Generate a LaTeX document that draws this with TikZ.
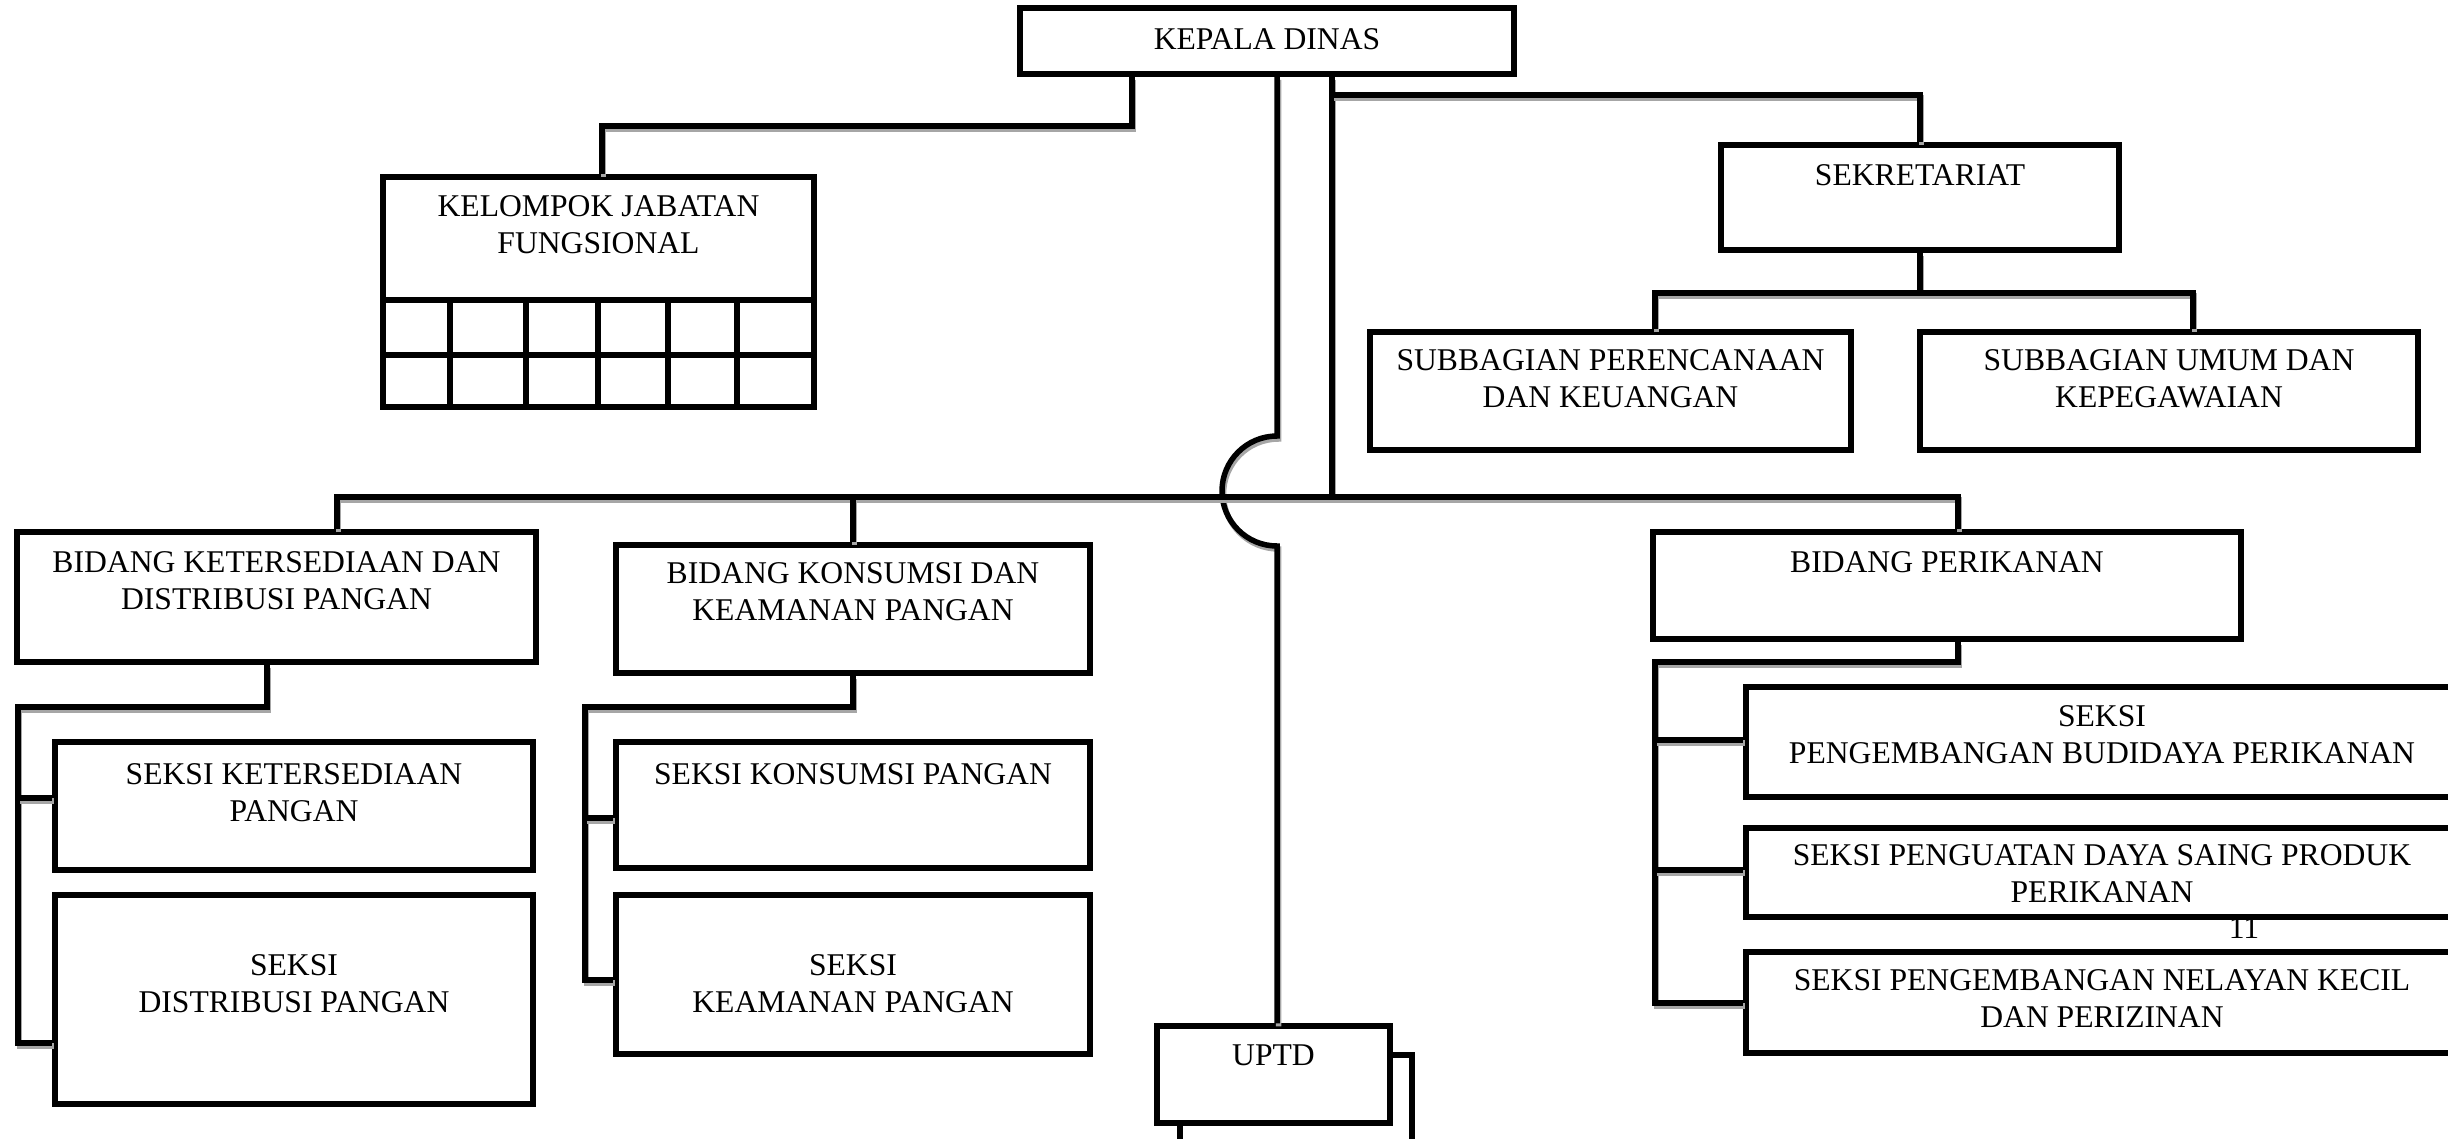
\documentclass[tikz,border=0pt]{standalone}
\usepackage{fontspec}
\setmainfont{Liberation Serif}
\usetikzlibrary{positioning,fit}

\begin{document}
\begin{tikzpicture}[x=0.1mm, y=-0.1mm, font=\fontsize{9}{10.5}\selectfont,
  box/.style={draw, line width=0.55mm, fill=white, inner sep=0pt},
  txt/.style={align=center, inner sep=0pt},
  cell/.style={line width=0.55mm},
  conn/.style={line width=0.55mm, preaction={draw=black!35, line width=0.55mm, transform canvas={shift={(0.15mm,-0.3mm)}}}}]
\useasboundingbox (0,0) rectangle (2448,1139);

% kepala, sekretariat, jabatan fungsional
\node[box, fit={(1020,8) (1514,74)}]     (kepala) {};
\node[box, fit={(383,177) (814,300)}]    (kjf) {};
\node[box, fit={(383,300) (814,407)}]    (kjfgrid) {};
\node[box, fit={(1721,145) (2119,250)}]  (sekre) {};
\node[box, fit={(1370,332) (1851,450)}]  (subren) {};
\node[box, fit={(1920,332) (2418,450)}]  (subumum) {};

% bidang
\node[box, fit={(17,532) (536,662)}]     (bketer) {};
\node[box, fit={(616,545) (1090,673)}]   (bkons) {};
\node[box, fit={(1653,532) (2241,639)}]  (bikan) {};

% seksi
\node[box, fit={(55,742) (533,870)}]     (sketer) {};
\node[box, fit={(55,895) (533,1104)}]    (sdist) {};
\node[box, fit={(616,742) (1090,868)}]   (skons) {};
\node[box, fit={(616,895) (1090,1054)}]  (skeam) {};
\node[box, fit={(1746,687) (2458,797)}]  (sbudi) {};
\node[box, fit={(1746,828) (2458,917)}]  (sdaya) {};
\node[box, fit={(1746,952) (2458,1053)}] (snel) {};

% uptd
\node[box, fit={(1180,1055) (1412,1150)}] (uptdback) {};
\node[box, fit={(1157,1026) (1390,1123)}] (uptd) {};

\draw[cell] (kjfgrid.west |- 0,355) -- (kjfgrid.east |- 0,355);
\foreach \gx in {450,526,598,668,737}
  \draw[cell] (\gx,0 |- kjfgrid.north) -- (\gx,0 |- kjfgrid.south);

\node[txt, below=2.3mm of kepala.north]  (kepalaT)  {KEPALA DINAS};
\node[txt, below=2.1mm of kjf.north]     (kjfT)     {KELOMPOK JABATAN\\FUNGSIONAL};
\node[txt, below=2.2mm of sekre.north]   (sekreT)   {SEKRETARIAT};
\node[txt, below=2.0mm of subren.north]  (subrenT)  {SUBBAGIAN PERENCANAAN\\DAN KEUANGAN};
\node[txt, below=2.0mm of subumum.north] (subumumT) {SUBBAGIAN UMUM DAN\\KEPEGAWAIAN};
\node[txt, below=2.2mm of bketer.north]  (bketerT)  {BIDANG KETERSEDIAAN DAN\\DISTRIBUSI PANGAN};
\node[txt, below=2.0mm of bkons.north]   (bkonsT)   {BIDANG KONSUMSI DAN\\KEAMANAN PANGAN};
\node[txt, below=2.2mm of bikan.north]   (bikanT)   {BIDANG PERIKANAN};
\node[txt, below=2.4mm of sketer.north]  (sketerT)  {SEKSI KETERSEDIAAN\\PANGAN};
\node[txt, below=6.2mm of sdist.north]   (sdistT)   {SEKSI\\DISTRIBUSI PANGAN};
\node[txt, below=2.4mm of skons.north]   (skonsT)   {SEKSI KONSUMSI PANGAN};
\node[txt, below=6.2mm of skeam.north]   (skeamT)   {SEKSI\\KEAMANAN PANGAN};
\node[txt, below=2.1mm of sbudi.north]   (sbudiT)   {SEKSI\\PENGEMBANGAN BUDIDAYA PERIKANAN};
\node[txt, below=1.9mm of sdaya.north]   (sdayaT)   {SEKSI PENGUATAN DAYA SAING PRODUK\\PERIKANAN};
\node[txt, below=2.0mm of snel.north]    (snelT)    {SEKSI PENGEMBANGAN NELAYAN KECIL\\DAN PERIZINAN};
\node[txt, below=2.1mm of uptd.north]    (uptdT)    {UPTD};
\node[txt, anchor=base] (pagenum) at (2244,938) {11};

% garis komando
\draw[conn] (1132,0 |- kepala.south) -- (1132,126) -| (602,0 |- kjf.north);
\draw[conn] (1332,0 |- kepala.south) -- (1332,497);
\draw[conn] (1332,95) -| (sekre.north);
\draw[conn] (1277,0 |- kepala.south) -- (1277,436)
  arc[start angle=90, end angle=270, radius=5.5mm] -- (1277,0 |- uptd.north);
\draw[conn] (337,0 |- bketer.north) |- (1958,497) -- (1958,0 |- bikan.north);
\draw[conn] (853,497) -- (853,0 |- bkons.north);
\draw[conn] (sekre.south) -- (1920,293);
\draw[conn] (1655,0 |- subren.north) |- (2193,293) -- (2193,0 |- subumum.north);

% seksi
\draw[conn] (267,0 |- bketer.south) -- (267,707) -| (18,1043) -- (sdist.west |- 0,1043);
\draw[conn] (18,798) -- (sketer.west |- 0,798);
\draw[conn] (853,0 |- bkons.south) -- (853,707) -| (585,980) -- (skeam.west |- 0,980);
\draw[conn] (585,818) -- (skons.west |- 0,818);
\draw[conn] (1958,0 |- bikan.south) -- (1958,662) -| (1655,1003) -- (snel.west |- 0,1003);
\draw[conn] (1655,740) -- (sbudi.west |- 0,740);
\draw[conn] (1655,870) -- (sdaya.west |- 0,870);
\end{tikzpicture}
\end{document}
